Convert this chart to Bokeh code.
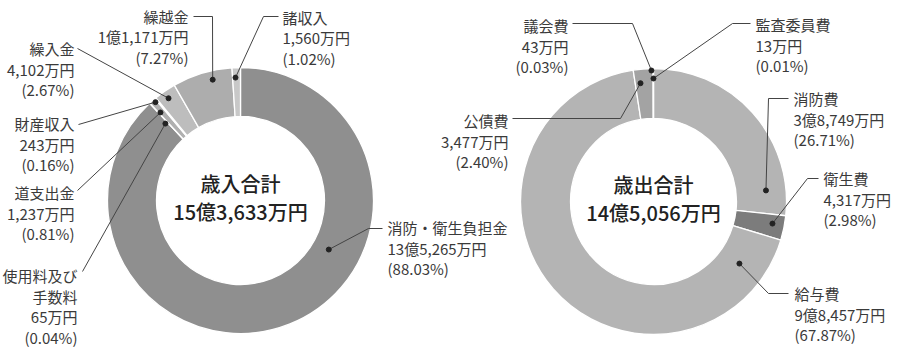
import math
from bokeh.plotting import figure
from bokeh.models import Range1d, ColumnDataSource
from bokeh.core.properties import value
from bokeh.embed import file_html
from bokeh.resources import INLINE

# ---------------- data ----------------
rev_title = "歳入合計"
rev_total = "15億3,633万円"
rev_labels = ["消防・衛生負担金", "使用料及び\n手数料", "道支出金", "財産収入", "繰入金", "繰越金", "諸収入"]
rev_amounts = ["13億5,265万円", "65万円", "1,237万円", "243万円", "4,102万円", "1億1,171万円", "1,560万円"]
rev_pct = [88.03, 0.04, 0.81, 0.16, 2.67, 7.27, 1.02]

exp_title = "歳出合計"
exp_total = "14億5,056万円"
exp_labels = ["消防費", "衛生費", "給与費", "公債費", "議会費", "監査委員費"]
exp_amounts = ["3億8,749万円", "4,317万円", "9億8,457万円", "3,477万円", "43万円", "13万円"]
exp_pct = [26.71, 2.98, 67.87, 2.40, 0.03, 0.01]

# ---------------- styles / layout ----------------
rev_colors = ["#8f8f8f", "#9c9c9c", "#b0b0b0", "#c6c6c6", "#bdbdbd", "#adadad", "#c8c8c8"]
exp_colors = ["#b4b4b4", "#7c7c7c", "#b4b4b4", "#a3a3a3", "#d0d0d0", "#e0e0e0"]

FONT = value("Noto Sans CJK JP")
TITLE_FONT = value("Noto Sans CJK JP Medium, Noto Sans CJK JP")
TXT = "#3a3a3a"
LINE = "#444444"
IMG_H = 359
LS = 20.5


def Y(y):
    return IMG_H - y


# label layout (screen coords): (x, y_first_line, align, elbow points, angle offset, dot radius)
rev_layout = [
    (387, 227, "left", [(382, 228), (368, 228)], -39.4, 101),
    (77, 275, "right", [(82, 271)], -1.3, 107.5),
    (74, 192, "right", [(77, 190)], -0.8, 119),
    (74, 123, "right", [(78, 124)], -1.1, 130),
    (74, 48, "right", [(77, 48)], -0.5, 125),
    (188, 15.5, "right", [(193, 16), (212, 16)], 3.8, 124),
    (282, 16.5, "left", [(278, 16), (263, 16)], -0.5, 123),
]
exp_layout = [
    (793, 98, "left", [(788, 98), (768, 98)], 36.3, 113),
    (823, 178, "left", [(818, 178), (807, 178)], -1.0, 121),
    (794, 293, "left", [(788, 293), (768, 293)], -103.2, 106),
    (508, 120, "right", [(512, 118), (620, 118)], -1.8, 119),
    (568, 25, "right", [(572, 23), (632, 23)], -0.8, 131),
    (755, 24, "left", [(750, 23), (732, 23)], 0.0, 123),
]

p = figure(width=900, height=359, x_range=Range1d(0, 900), y_range=Range1d(0, 359),
           output_backend="svg", toolbar_location=None, min_border=0,
           x_axis_location=None, y_axis_location=None)
p.grid.visible = False
p.outline_line_color = None
p.background_fill_color = "white"
p.border_fill_color = "white"


def donut(cx, cy, R, r, labels, amounts, pcts, colors, layout, title, total):
    tot = sum(pcts)
    cum = 0.0
    starts, ends, mids = [], [], []
    for v in pcts:
        s = cum / tot * 360.0
        e = (cum + v) / tot * 360.0
        cum += v
        starts.append(math.radians(90 - s))
        ends.append(math.radians(90 - e))
        mids.append((s + e) / 2)
    src = ColumnDataSource(dict(start=starts, end=ends, color=colors))
    p.annular_wedge(x=cx, y=Y(cy), inner_radius=r, outer_radius=R,
                    start_angle="start", end_angle="end", direction="clock",
                    fill_color="color", line_color="white", line_width=1.3, source=src)

    xs, ys, dx, dy = [], [], [], []
    tx, ty, tt, ta = [], [], [], []
    for i, (lx, ly, al, pts, off, rd) in enumerate(layout):
        th = math.radians(mids[i] + off)
        px = cx + rd * math.sin(th)
        py = Y(cy) + rd * math.cos(th)
        dx.append(px)
        dy.append(py)
        xs.append([q[0] for q in pts] + [px])
        ys.append([Y(q[1]) for q in pts] + [py])
        lines = labels[i].split("\n") + [amounts[i], f"({pcts[i]:.2f}%)"]
        for k, t in enumerate(lines):
            tx.append(lx)
            ty.append(Y(ly + k * LS))
            tt.append(t)
            ta.append(al)
    p.multi_line(xs, ys, line_color=LINE, line_width=1)
    p.scatter(dx, dy, size=5, color="#222222")
    tsrc = ColumnDataSource(dict(x=tx, y=ty, t=tt, a=ta))
    p.text(x="x", y="y", text="t", text_align="a", text_baseline="middle",
           text_font=FONT, text_font_size="15px", text_color=TXT, source=tsrc)
    p.text(x=[cx, cx], y=[Y(cy - 17), Y(cy + 11)], text=[title, total],
           text_align="center", text_baseline="middle", text_font=TITLE_FONT,
           text_font_size="20px", text_color="#222222")


donut(240, 200, 133, 84, rev_labels, rev_amounts, rev_pct, rev_colors, rev_layout, rev_title, rev_total)
donut(653, 201, 133, 83, exp_labels, exp_amounts, exp_pct, exp_colors, exp_layout, exp_title, exp_total)

open("out.html", "w").write(file_html(p, INLINE))
